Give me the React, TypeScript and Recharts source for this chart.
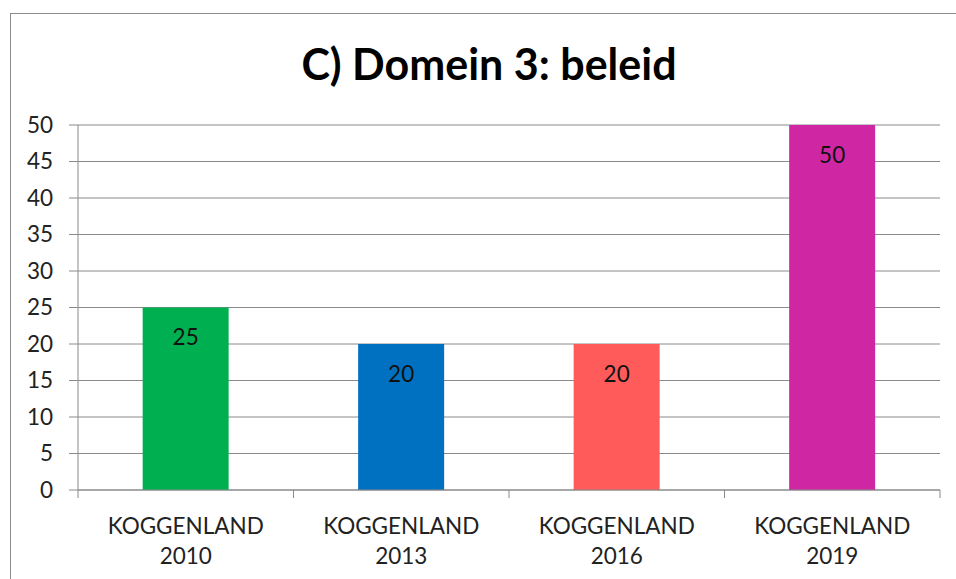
import { BarChart, Bar, XAxis, YAxis, CartesianGrid, LabelList, Cell } from "recharts";

const categories = ["KOGGENLAND 2010", "KOGGENLAND 2013", "KOGGENLAND 2016", "KOGGENLAND 2019"];
const scores = [25, 20, 20, 50];
const barColors = ["#00B050", "#0070C0", "#FF5B5B", "#CF27A4"];
const yTicks = [0, 5, 10, 15, 20, 25, 30, 35, 40, 45, 50];

const chartData = categories.map((name, i) => ({ name, value: scores[i] }));

const FONT = "Lato, 'Open Sans', sans-serif";
const AXIS = "#8a8a8a";

// category label in two lines, plus tick marks on the band edges
function CategoryTick(props: any) {
  const { x, y, payload, index } = props;
  const half = payload.offset ?? 0;
  const [line1, line2] = String(payload.value).split(" ");
  const last = index === categories.length - 1;
  return (
    <g>
      <line x1={x - half} x2={x - half} y1={y} y2={y + 8} stroke={AXIS} />
      {last && <line x1={x + half} x2={x + half} y1={y} y2={y + 8} stroke={AXIS} />}
      <text x={x} y={y} textAnchor="middle" fill="#222" fontSize={22.5} fontFamily={FONT}>
        <tspan x={x} dy={44}>{line1}</tspan>
        <tspan x={x} dy={30}>{line2}</tspan>
      </text>
    </g>
  );
}

export default function App() {
  return (
    <div style={{ position: "absolute", left: 0, top: 0, width: 956, height: 579, background: "#fff", overflow: "hidden" }}>
      <div
        style={{
          position: "absolute",
          left: 10,
          top: 13,
          width: 960,
          height: 580,
          border: "1px solid #8c8c8c",
        }}
      />
      <div
        style={{
          position: "absolute",
          left: 0,
          width: 978,
          top: 36,
          textAlign: "center",
          fontFamily: FONT,
          fontWeight: "bold",
          fontSize: 43,
          lineHeight: "56px",
          color: "#000",
        }}
      >
        C) Domein 3: beleid
      </div>
      <div style={{ position: "absolute", left: 0, top: 0 }}>
        <BarChart
          width={956}
          height={579}
          data={chartData}
          margin={{ top: 125, right: 16, left: 0, bottom: 9 }}
          barCategoryGap="30%"
        >
          <CartesianGrid vertical={false} stroke={AXIS} strokeWidth={1} />
          <XAxis
            dataKey="name"
            tickLine={false}
            tickSize={0}
            tickMargin={0}
            axisLine={{ stroke: AXIS }}
            tick={<CategoryTick />}
            height={80}
            interval={0}
          />
          <YAxis
            domain={[0, 50]}
            ticks={yTicks}
            width={78}
            tickSize={9}
            tickMargin={16}
            interval={0}
            axisLine={{ stroke: AXIS }}
            tickLine={{ stroke: AXIS }}
            tick={{ fill: "#222", fontSize: 22.5, fontFamily: FONT }}
          />
          <Bar dataKey="value" isAnimationActive={false}>
            {chartData.map((_, i) => (
              <Cell key={`cell-${i}`} fill={barColors[i]} />
            ))}
            <LabelList
              dataKey="value"
              position="insideTop"
              offset={22}
              fill="#111"
              fontSize={22.5}
              fontFamily={FONT}
            />
          </Bar>
        </BarChart>
      </div>
    </div>
  );
}
